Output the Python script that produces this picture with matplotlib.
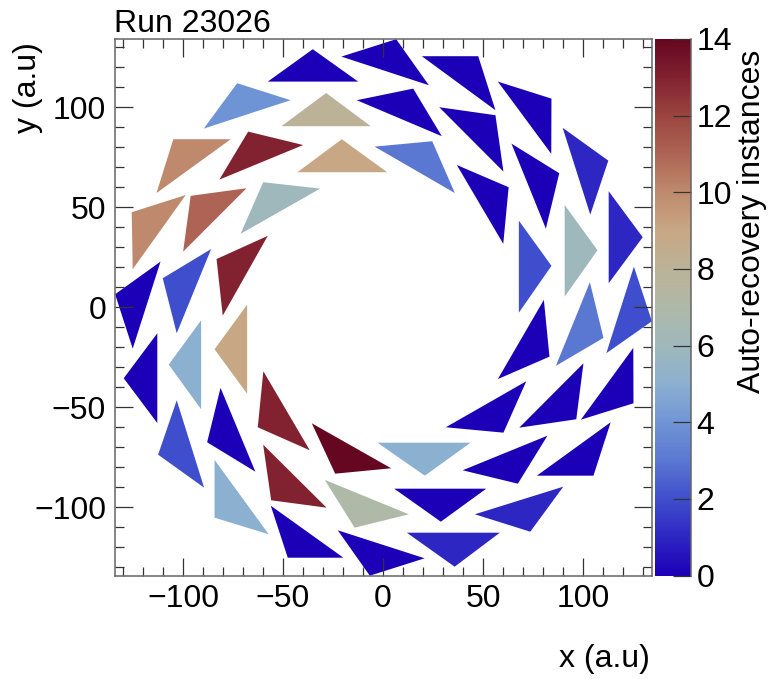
import matplotlib
matplotlib.use("Agg")
import matplotlib.pyplot as plt
from matplotlib.collections import PolyCollection
from matplotlib.colors import LinearSegmentedColormap, Normalize
from matplotlib.ticker import MultipleLocator, FuncFormatter

plt.rcParams['font.family'] = ['Liberation Sans', 'DejaVu Sans']

# triangle corners (a.u)
tri_x = [
    [-35.1, -57.6, -12.4], [-72.9, -46.2, -89.6], [-28.4, -50.8, -6.1], [-104.8, -76.1, -113.2],
    [-67.4, -39.9, -81.8], [-20.6, -42.8, 2.1], [-125.6, -98.6, -125.1], [-96.1, -68.2, -99.9],
    [-59.9, -31.4, -71.2], [-83.2, -57.6, -80.1], [-110.1, -85.9, -103.1], [-133.9, -111.2, -125.1],
    [6.6, 22.9, -20.8], [19.4, 47.6, 56.2], [57.4, 84.2, 84.1], [89.8, 112.6, 103.6],
    [112.8, 129.8, 112.8], [15.1, 29.4, -13.1], [28.1, 56.2, 60.2], [64.2, 88.1, 81.4],
    [90.8, 107.2, 90.8], [-4.2, 24.6, 35.9], [36.9, 62.8, 60.1], [67.9, 84.2, 67.9],
    [80.4, 83.2, 57.4], [103.4, 110.2, 86.4], [125.4, 134.4, 111.6], [71.6, 60.2, 31.4],
    [100.2, 96.6, 68.1], [125.1, 125.2, 98.9], [-2.8, 43.8, 20.9], [82.2, 67.4, 39.8],
    [113.8, 105.2, 76.9], [5.6, 51.6, 28.9], [90.1, 73.6, 45.9], [11.9, 58.4, 35.8],
    [-22.6, 20.8, -6.6], [-112.8, -112.8, -129.6], [-90.9, -90.9, -107.1], [-67.9, -67.9, -84.2],
    [-103.1, -89.4, -112.4], [-81.2, -63.8, -87.9], [-59.8, -36.6, -62.6], [-84.2, -57.1, -84.2],
    [-59.9, -28.2, -55.9], [-35.6, 4.1, -23.9], [-56.1, -19.8, -47.6], [-29.1, 12.9, -14.2],
]
tri_y = [
    [129.1, 112.9, 112.9], [112.1, 103.6, 89.4], [107.2, 90.6, 90.6], [84.1, 84.1, 57.2],
    [87.9, 81.2, 63.9], [84.1, 67.6, 67.6], [47.6, 56.2, 19.1], [55.8, 59.6, 27.9],
    [62.6, 59.4, 36.8], [24.2, 35.8, -4.1], [14.6, 29.2, -12.9], [6.6, 22.9, -20.6],
    [134.1, 111.1, 125.4], [125.6, 125.6, 98.6], [112.9, 104.4, 76.8], [89.8, 73.4, 46.4],
    [58.1, 35.1, 12.1], [109.4, 85.6, 103.6], [100.1, 96.1, 67.9], [81.9, 67.1, 39.4],
    [51.2, 28.6, 5.4], [80.4, 83.1, 57.2], [71.2, 60.1, 31.8], [43.4, 20.8, -2.6],
    [3.8, -24.6, -35.8], [12.6, -15.2, -29.2], [20.4, -6.9, -22.9], [-36.9, -62.6, -59.9],
    [-27.9, -55.9, -60.1], [-20.2, -47.9, -56.1], [-67.6, -67.6, -84.1], [-64.1, -88.1, -81.4],
    [-57.4, -84.1, -84.1], [-90.6, -90.6, -107.1], [-89.6, -112.1, -103.4], [-112.6, -112.6, -129.6],
    [-111.4, -125.4, -134.1], [-12.9, -57.8, -35.4], [-6.4, -50.9, -28.6], [1.4, -43.2, -20.9],
    [-46.4, -90.1, -73.6], [-40.2, -82.1, -67.4], [-31.9, -71.4, -59.9], [-76.2, -113.4, -105.1],
    [-68.6, -100.1, -96.4], [-57.9, -80.4, -83.1], [-99.1, -125.1, -125.1], [-86.2, -103.4, -110.1],
]
recoveries = [
    0, 4, 8, 10, 13, 9, 10, 11, 6, 13, 2, 0,
    0, 0, 0, 1, 1, 0, 0, 0, 6, 3, 0, 2,
    0, 3, 2, 0, 0, 0, 5, 0, 0, 0, 1, 1,
    0, 0, 5, 9, 2, 0, 13, 5, 13, 14, 0, 7,
]

# palette, one colour per unit
palette = ['#1c00b8', '#2d26c2', '#3f4fcc', '#5b78d2', '#7095d5', '#8cb0d0', '#9fb8bb', '#aeb9a8',
           '#bbb298', '#c8a884', '#bf8a6e', '#ad6554', '#9c4540', '#822230', '#650720']
cmap = LinearSegmentedColormap.from_list('recovery', palette, N=255)
norm = Normalize(0, 14)

W, H = 774, 679
fig = plt.figure(figsize=(W / 100, H / 100), dpi=100)
ax = fig.add_axes([114.5 / W, 1 - 575.5 / H, 537 / W, 536.5 / H])
cax = fig.add_axes([655 / W, 1 - 575.5 / H, 36 / W, 536.5 / H])

polys = [list(zip(xs, ys)) for xs, ys in zip(tri_x, tri_y)]
pc = PolyCollection(polys, array=recoveries, cmap=cmap, norm=norm, edgecolors='none')
ax.add_collection(pc)
ax.set_xlim(-134.2, 134.2)
ax.set_ylim(-134, 134.2)

axis_grey = '#666666'
major_len = 18 * 0.72
minor_len = 9 * 0.72
font_size = 23

for axis in (ax.xaxis, ax.yaxis):
    axis.set_major_locator(MultipleLocator(50))
    axis.set_minor_locator(MultipleLocator(10))
ax.tick_params(which='both', direction='in', top=True, right=True, width=0.9, color='#333333')
ax.tick_params(which='major', length=major_len, labelsize=font_size, pad=6)
ax.tick_params(which='minor', length=minor_len)
for s in ax.spines.values():
    s.set_color(axis_grey)
    s.set_linewidth(1.1)

ax.set_xlabel('x (a.u)', fontsize=font_size, loc='right')
ax.xaxis.set_label_coords(0.997, -0.127)
ax.set_ylabel('y (a.u)', fontsize=font_size, loc='top')
ax.yaxis.set_label_coords(-0.133, 0.995)
ax.set_title('Run 23026', fontsize=font_size, loc='left', pad=2)

cb = fig.colorbar(pc, cax=cax)
cb.set_ticks(range(0, 15, 2))
cb.ax.minorticks_off()
cb.outline.set_visible(False)
cax.spines['right'].set_visible(True)
cax.spines['right'].set_color(axis_grey)
cax.spines['right'].set_linewidth(1.1)
cax.tick_params(direction='in', length=major_len, width=0.9, color='#333333', labelsize=font_size, pad=4,
                left=False, right=True, labelright=True)
cb.set_label('Auto-recovery instances', fontsize=font_size, loc='top')
cax.yaxis.set_label_coords(2.28, 0.98)

fmt = FuncFormatter(lambda v, p: f'{v:.0f}'.replace('-', '\u2212'))
ax.xaxis.set_major_formatter(fmt)
ax.yaxis.set_major_formatter(fmt)

fig.savefig('out.png', dpi=100)
